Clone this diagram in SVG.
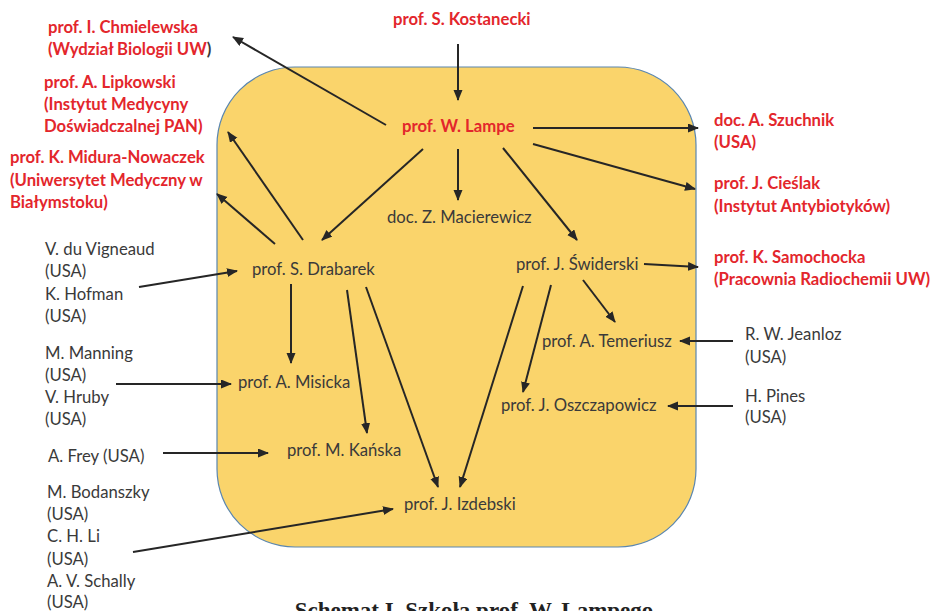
<svg xmlns="http://www.w3.org/2000/svg" width="938" height="611" viewBox="0 0 938 611">
<defs>
<marker id="ah" markerUnits="userSpaceOnUse" markerWidth="12" markerHeight="10" refX="10" refY="4.5" orient="auto">
<path d="M0,0 L11,4.5 L0,9 z" fill="#262626"/>
</marker>
<style>
text{font-family:Lato,"Open Sans","Liberation Sans",sans-serif;font-size:16.7px}
.r{fill:#E3262C;font-weight:bold}
.k{fill:#3A3A3A}
.c line{stroke:#262626;stroke-width:2;marker-end:url(#ah)}
.cap{font-family:"Liberation Serif","Times New Roman",serif;font-weight:bold;font-size:23px;fill:#222}
</style>
</defs>
<rect x="0" y="0" width="938" height="611" fill="#fff"/>
<rect id="frame" x="217" y="67" width="479" height="480" rx="78" ry="78" fill="#FAD46B" stroke="#5A86B0" stroke-width="1.2"/>

<g id="kostanecki"><text class="r" x="393" y="25">prof. S. Kostanecki</text></g>
<g id="lampe"><text class="r" x="402" y="132">prof. W. Lampe</text></g>
<g id="chmielewska"><text class="r" x="48" y="33">prof. I. Chmielewska</text><text class="r" x="48" y="55">(Wydział Biologii UW<tspan fill="#3A3A3A">)</tspan></text></g>
<g id="lipkowski"><text class="r" x="44" y="88">prof. A. Lipkowski</text><text class="r" x="44" y="110">(Instytut Medycyny</text><text class="r" x="44" y="132">Doświadczalnej PAN)</text></g>
<g id="midura"><text class="r" x="10" y="163">prof. K. Midura-Nowaczek</text><text class="r" x="10" y="186">(Uniwersytet Medyczny w</text><text class="r" x="10" y="208">Białymstoku)</text></g>
<g id="szuchnik"><text class="r" x="714" y="126">doc. A. Szuchnik</text><text class="r" x="714" y="148">(USA)</text></g>
<g id="cieslak"><text class="r" x="714" y="189">prof. J. Cieślak</text><text class="r" x="714" y="212">(Instytut Antybiotyków)</text></g>
<g id="samochocka"><text class="r" x="714" y="263">prof. K. Samochocka</text><text class="r" x="714" y="285">(Pracownia Radiochemii UW)</text></g>

<g id="macierewicz"><text class="k" x="387" y="223">doc. Z. Macierewicz</text></g>
<g id="drabarek"><text class="k" x="252" y="275">prof. S. Drabarek</text></g>
<g id="swiderski"><text class="k" x="516" y="270">prof. J. Świderski</text></g>
<g id="misicka"><text class="k" x="238" y="388">prof. A. Misicka</text></g>
<g id="kanska"><text class="k" x="287" y="456">prof. M. Kańska</text></g>
<g id="izdebski"><text class="k" x="404" y="510">prof. J. Izdebski</text></g>
<g id="temeriusz"><text class="k" x="542" y="347">prof. A. Temeriusz</text></g>
<g id="oszczapowicz"><text class="k" x="501" y="411">prof. J. Oszczapowicz</text></g>

<g id="vigneaud"><text class="k" x="45" y="255">V. du Vigneaud</text><text class="k" x="45" y="277">(USA)</text><text class="k" x="45" y="300">K. Hofman</text><text class="k" x="45" y="322">(USA)</text></g>
<g id="manning"><text class="k" x="45" y="359">M. Manning</text><text class="k" x="45" y="381">(USA)</text><text class="k" x="45" y="403">V. Hruby</text><text class="k" x="45" y="425">(USA)</text></g>
<g id="frey"><text class="k" x="48" y="462">A. Frey (USA)</text></g>
<g id="bodanszky"><text class="k" x="47" y="498">M. Bodanszky</text><text class="k" x="47" y="520">(USA)</text><text class="k" x="47" y="542">C. H. Li</text><text class="k" x="47" y="565">(USA)</text><text class="k" x="47" y="587">A. V. Schally</text><text class="k" x="47" y="608">(USA)</text></g>
<g id="jeanloz"><text class="k" x="745" y="340">R. W. Jeanloz</text><text class="k" x="745" y="363">(USA)</text></g>
<g id="pines"><text class="k" x="745" y="402">H. Pines</text><text class="k" x="745" y="423">(USA)</text></g>

<g id="caption"><text class="cap" x="474" y="618" text-anchor="middle">Schemat I. Szkoła prof. W. Lampego</text></g>

<g id="connectors" class="c">
<line x1="458" y1="44" x2="458" y2="100"/>
<line x1="386" y1="125" x2="233" y2="37"/>
<line x1="533" y1="128" x2="698" y2="128"/>
<line x1="533" y1="144" x2="695" y2="189"/>
<line x1="458" y1="149" x2="458" y2="200"/>
<line x1="423" y1="149" x2="322" y2="240"/>
<line x1="503" y1="148" x2="577" y2="240"/>
<line x1="303" y1="240" x2="228" y2="132"/>
<line x1="275" y1="244" x2="217" y2="194"/>
<line x1="139" y1="287" x2="237" y2="271"/>
<line x1="291" y1="284" x2="291" y2="363"/>
<line x1="347" y1="290" x2="367" y2="433"/>
<line x1="366" y1="287" x2="438" y2="487"/>
<line x1="116" y1="384" x2="231" y2="384"/>
<line x1="163" y1="453" x2="268" y2="453"/>
<line x1="133" y1="552" x2="393" y2="509"/>
<line x1="523" y1="286" x2="460" y2="487"/>
<line x1="551" y1="285" x2="523" y2="392"/>
<line x1="583" y1="280" x2="615" y2="322"/>
<line x1="644" y1="264" x2="698" y2="267"/>
<line x1="733" y1="341" x2="680" y2="341"/>
<line x1="733" y1="406" x2="668" y2="406"/>
</g>
</svg>
